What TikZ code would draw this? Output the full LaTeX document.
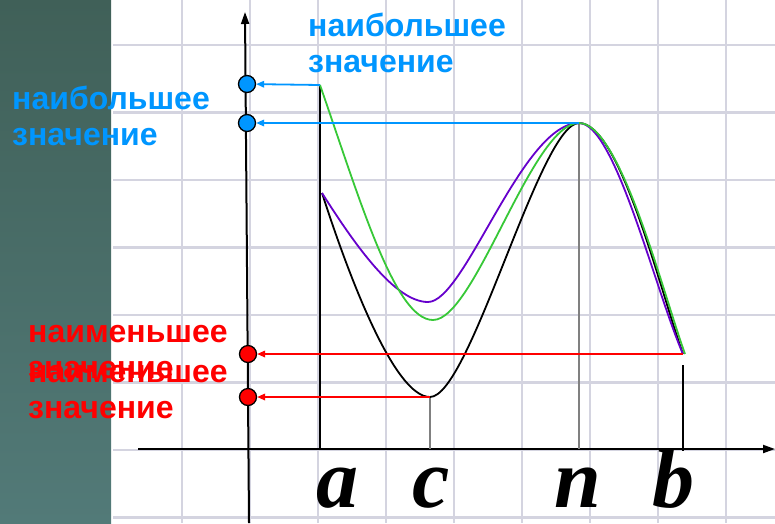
\documentclass[tikz,border=0pt]{standalone}
\usepackage{fontspec}
\setmainfont{Liberation Sans}
\newfontfamily\letterfont{Liberation Serif}
\usetikzlibrary{arrows.meta, positioning}

\definecolor{maxblue}{RGB}{0,150,255}
\definecolor{minred}{RGB}{255,0,0}
\definecolor{curvegreen}{RGB}{55,200,55}
\definecolor{curvepurple}{RGB}{102,0,204}
\definecolor{gridgray}{RGB}{212,212,224}
\definecolor{boardtop}{RGB}{64,96,88}
\definecolor{boardbottom}{RGB}{82,122,120}

\tikzset{
  valuedot/.style={circle, draw=black, line width=1.3pt, minimum size=17pt, inner sep=0pt},
  maxline/.style={maxblue, line width=1.8pt, ->},
  minline/.style={minred, line width=1.8pt, ->},
  curve/.style={line width=1.8pt},
  valuelabel/.style={anchor=base west, align=left, inner sep=0pt,
    font=\bfseries\fontsize{32}{36}\selectfont},
  pointlabel/.style={anchor=base, inner sep=0pt,
    font=\letterfont\bfseries\itshape\fontsize{84}{84}\selectfont}
}

\begin{document}
\begin{tikzpicture}[x=1pt, y=-1pt, >={Triangle[length=8pt, width=6.5pt]}]
    % Background: board strip and squared paper
    \useasboundingbox (0,0) rectangle (775,523);
    \fill[white] (0,0) rectangle (775,523);
    \shade[top color=boardtop, bottom color=boardbottom] (0,0) rectangle (111,523);
    \foreach \gx in {182,250,...,728}
        \draw[gridgray, line width=2.5pt] (\gx,0) -- (\gx,523);
    \foreach \gy in {45,112.5,...,520}
        \draw[gridgray, line width=2.5pt] (113,\gy) -- (775,\gy);

    % Axes
    \coordinate (O) at (247,449);
    \draw[line width=2pt, -{Triangle[length=12pt, width=8pt]}] (138,449) -- (775,449);
    \draw[line width=2pt, -{Triangle[length=12pt, width=8pt]}] (249,523) -- (245,12);

    % Points of the curves
    \coordinate (Ga) at (320,85);
    \coordinate (Ka) at (322,193);
    \coordinate (C) at (430,397);
    \coordinate (Pm) at (428,302);
    \coordinate (Gm) at (433,320);
    \coordinate (N) at (579,123);
    \coordinate (B) at (683,354);

    % Verticals at a, c, n, b
    \draw[line width=1.8pt] (Ga) -- (Ga |- O);
    \draw[gray, line width=1.5pt] (C) -- (C |- O);
    \draw[gray, line width=1.5pt] (N) -- (N |- O);
    \draw[line width=1.8pt] ([yshift=-11pt]B) -- ([yshift=-2pt]B |- O);

    % The three curves
    \draw[curve, black] (Ka) .. controls (350,280) and (395,397) .. (C)
        .. controls (470,397) and (540,123) .. (N)
        .. controls (620,123) and (660,290) .. (B);
    \draw[curve, curvepurple] (Ka) .. controls (355,245) and (395,302) .. (Pm)
        .. controls (465,302) and (522,123) .. (N)
        .. controls (615,123) and (655,290) .. (B);
    \draw[curve, curvegreen] (Ga) .. controls (360,200) and (395,320) .. (Gm)
        .. controls (475,320) and (532,123) .. (N)
        .. controls (620,123) and (662,290) .. ([xshift=2pt]B);

    % Values on the y axis
    \node[valuedot, fill=maxblue] (dotGa) at (247,84) {};
    \node[valuedot, fill=maxblue] (dotN) at (247,123) {};
    \node[valuedot, fill=minred] (dotB) at (248,354) {};
    \node[valuedot, fill=minred] (dotC) at (248,397) {};
    \draw[maxline] (Ga) -- (dotGa);
    \draw[maxline] (N) -- (dotN);
    \draw[minline] (B) -- (dotB);
    \draw[minline] (C) -- (dotC);

    % Labels (base is the last line)
    \node[valuelabel, maxblue] (maxtop) at (308,72) {наибольшее\\значение};
    \node[valuelabel, maxblue] (maxleft) at (12,145) {наибольшее\\значение};
    \node[valuelabel, minred] (minupper) at (28,378) {наименьшее\\значение};
    \node[valuelabel, minred] (minlower) at (28,418) {наименьшее\\значение};

    \node[pointlabel] (la) at (337,507) {a};
    \node[pointlabel] (lc) at (431,507) {c};
    \node[pointlabel] (ln) at (578,507) {n};
    \node[pointlabel] (lb) at (673,507) {b};
\end{tikzpicture}
\end{document}
